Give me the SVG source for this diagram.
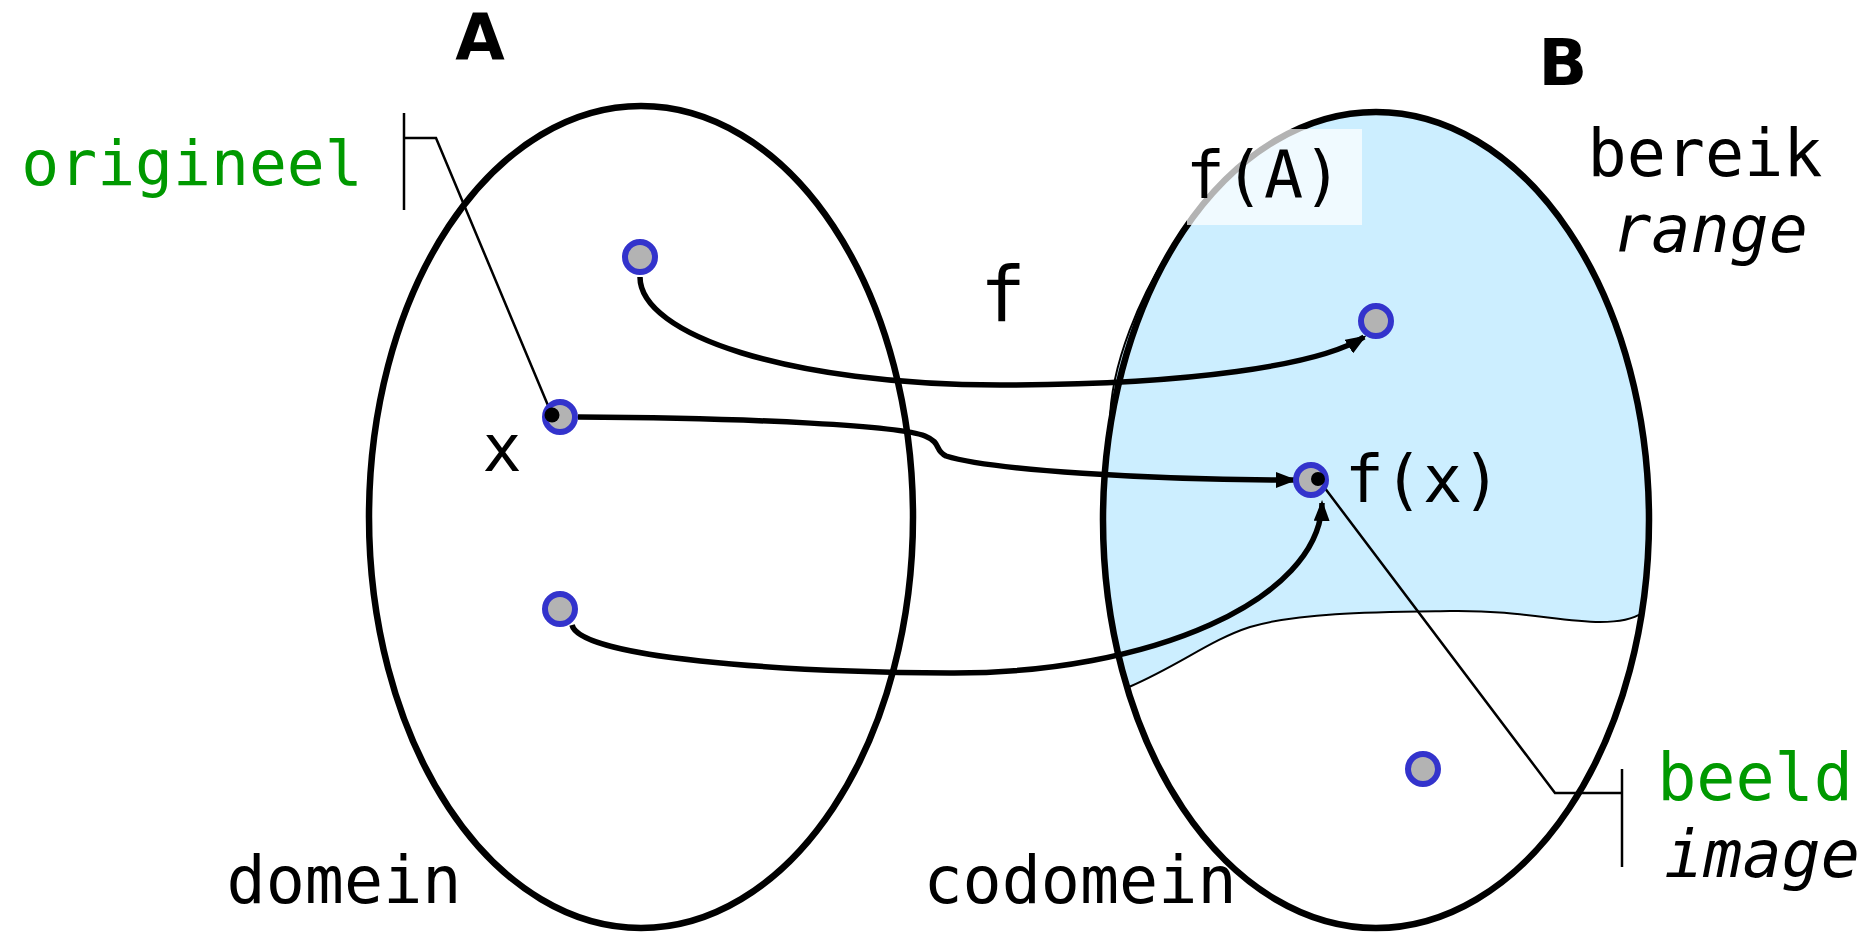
<svg xmlns="http://www.w3.org/2000/svg" width="1876" height="932" viewBox="0 0 1876 932">
<style>
.t{font-family:"DejaVu Sans Mono",monospace;font-size:65px;fill:#000;text-anchor:middle}
.g{fill:#009900}
.i{font-style:italic}
.b{font-family:"DejaVu Sans",sans-serif;font-weight:bold;font-size:64px;text-anchor:middle}
.set{fill:none;stroke:#000;stroke-width:6.5}
.node{fill:#b3b3b3;stroke:#3333cc;stroke-width:6}
.arr{fill:none;stroke:#000;stroke-width:5.5;marker-end:url(#ah)}
.lead{fill:none;stroke:#000;stroke-width:2.5}
</style>
<defs>
<marker id="ah" markerUnits="userSpaceOnUse" markerWidth="22" markerHeight="16" refX="18" refY="8" orient="auto">
<path d="M0,0 L21,8 L0,16 z" fill="#000"/>
</marker>
</defs>
<rect width="1876" height="932" fill="#fff"/>
<g id="range">
<path d="M1127,687 A273,408 0 0 1 1110,430 C1108,370 1140,290 1184,230 A273,408 0 0 1 1642,613 C1635,618 1620,622 1600,622 C1560,622 1520,610 1450,611 C1380,612 1300,612 1250,627 C1210,640 1180,665 1129,687 Z" fill="#cceeff" stroke="#000" stroke-width="2"/>
</g>
<g id="setA">
<ellipse class="set" cx="641" cy="517" rx="272" ry="411"/>
<text class="b" x="480" y="60">A</text>
<text class="t" x="344" y="903">domein</text>
</g>
<g id="setB">
<ellipse class="set" cx="1376" cy="520" rx="273" ry="408"/>
<text class="b" x="1563" y="85">B</text>
<text class="t" x="1080" y="903">codomein</text>
</g>
<g id="fA">
<rect x="1187" y="129" width="175" height="96" fill="#fff" fill-opacity="0.7"/>
<text class="t" x="1264" y="198">f(A)</text>
</g>
<g id="rangeLabel">
<text class="t" x="1705" y="176">bereik</text>
<text class="t i" x="1710" y="252">range</text>
</g>
<g id="fLabel">
<text class="t" x="1003" y="321" style="font-size:76px">f</text>
</g>
<g id="connectors">
<path class="arr" d="M640,277 C640,335 790,385 1000,385 C1190,385 1320,365 1364,337"/>
<path class="arr" d="M578,417 C760,418 900,426 925,436 C942,443 934,450 946,456 C990,470 1150,480 1294,480"/>
<path class="arr" d="M572,625 C580,658 780,672 950,673 C1150,674 1320,600 1322,503"/>
<polyline class="lead" points="552,415 436,138 404,138"/>
<line class="lead" x1="404" y1="113" x2="404" y2="210"/>
<polyline class="lead" points="1318,479 1555,793 1622,793"/>
<line class="lead" x1="1622" y1="769" x2="1622" y2="867"/>
</g>
<g id="n1"><circle class="node" cx="640" cy="257" r="15"/></g>
<g id="nx"><circle class="node" cx="560" cy="417" r="15"/><circle cx="552" cy="415" r="7.5"/><text class="t" x="502" y="471">x</text></g>
<g id="n3"><circle class="node" cx="560" cy="609" r="15"/></g>
<g id="m1"><circle class="node" cx="1376" cy="321" r="15"/></g>
<g id="mfx"><circle class="node" cx="1311" cy="480" r="15"/><circle cx="1318" cy="479" r="7"/><text class="t" x="1423" y="502">f(x)</text></g>
<g id="m3"><circle class="node" cx="1423" cy="769" r="15"/></g>
<g id="origineel"><text class="t g" x="192" y="185" style="font-size:63px">origineel</text></g>
<g id="beeld"><text class="t g" x="1755" y="800">beeld</text><text class="t i" x="1762" y="877">image</text></g>
</svg>
